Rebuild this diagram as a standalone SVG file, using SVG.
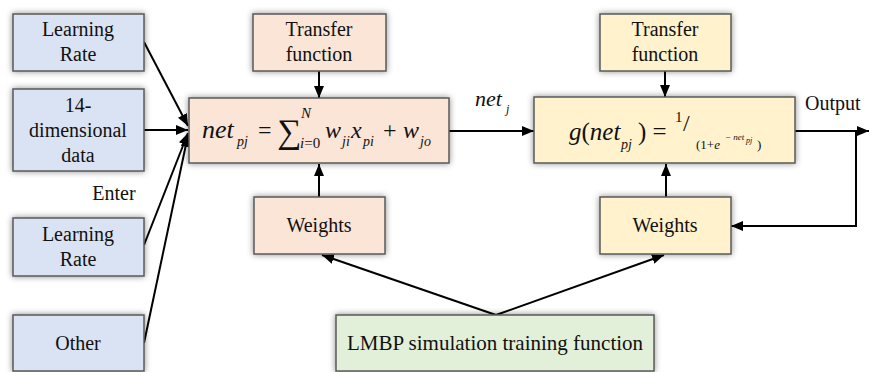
<svg xmlns="http://www.w3.org/2000/svg" width="869" height="372" viewBox="0 0 869 372">
<defs>
<filter id="sh" x="-20%" y="-30%" width="140%" height="160%">
<feDropShadow dx="0" dy="0" stdDeviation="3" flood-color="#000" flood-opacity="0.45"/>
</filter>
<marker id="ah" viewBox="0 0 12 10" refX="12" refY="5" markerWidth="12" markerHeight="10" markerUnits="userSpaceOnUse" orient="auto">
<path d="M0,0 L12,5 L0,10 Z" fill="#000"/>
</marker>
</defs>

<g id="connectors" stroke="#000" stroke-width="2" fill="none" marker-end="url(#ah)">
<line x1="144" y1="42" x2="188" y2="126"/>
<line x1="144" y1="130" x2="188" y2="130"/>
<line x1="144" y1="245" x2="188" y2="133"/>
<line x1="144" y1="343" x2="188" y2="135"/>
<line x1="319" y1="71" x2="319" y2="98"/>
<line x1="665" y1="71" x2="665" y2="97"/>
<line x1="319" y1="197" x2="319" y2="164"/>
<line x1="666" y1="197" x2="666" y2="164"/>
<line x1="449" y1="131" x2="534" y2="131"/>
<line x1="795" y1="131" x2="869" y2="131"/>
<polyline points="856,131 856,226 731,226"/>
<line x1="496" y1="315" x2="322" y2="255"/>
<line x1="496" y1="315" x2="664" y2="255"/>
</g>

<g id="boxes" stroke="#5a5a5a" stroke-width="1.5" filter="url(#sh)">
<rect id="learning-rate-1-box" x="13" y="14" width="131" height="57" fill="#dae3f3"/>
<rect id="data-14-box" x="13" y="89" width="131" height="82" fill="#dae3f3"/>
<rect id="learning-rate-2-box" x="13" y="218" width="131" height="58" fill="#dae3f3"/>
<rect id="other-box" x="13" y="315" width="131" height="56" fill="#dae3f3"/>
<rect id="transfer-1-box" x="253" y="14" width="133" height="57" fill="#fbe5d6"/>
<rect id="transfer-2-box" x="600" y="14" width="131" height="57" fill="#fff2cc"/>
<rect id="sum-box-rect" x="189" y="98" width="260" height="65" fill="#fbe5d6"/>
<rect id="g-box-rect" x="534" y="97" width="261" height="66" fill="#fff2cc"/>
<rect id="weights-1-box" x="254" y="197" width="131" height="57" fill="#fbe5d6"/>
<rect id="weights-2-box" x="600" y="197" width="131" height="57" fill="#fff2cc"/>
<rect id="lmbp-box" x="336" y="315" width="318" height="56" fill="#e2f0d9"/>
</g>

<g font-family="Liberation Serif" font-size="20" fill="#111">
<g id="learning-rate-1" text-anchor="middle"><text x="78" y="36" font-family="Liberation Serif">Learning</text><text x="78" y="61" font-family="Liberation Serif">Rate</text></g>
<g id="data-14" text-anchor="middle"><text x="78" y="112" font-family="Liberation Serif">14-</text><text x="78" y="137" font-family="Liberation Serif">dimensional</text><text x="78" y="162" font-family="Liberation Serif">data</text></g>
<g id="enter" text-anchor="middle"><text x="114" y="200" font-family="Liberation Serif">Enter</text></g>
<g id="learning-rate-2" text-anchor="middle"><text x="78" y="241" font-family="Liberation Serif">Learning</text><text x="78" y="266" font-family="Liberation Serif">Rate</text></g>
<g id="other" text-anchor="middle"><text x="78" y="350" font-family="Liberation Serif">Other</text></g>

<g id="transfer-1" text-anchor="middle"><text x="319" y="36" font-family="Liberation Serif">Transfer</text><text x="319" y="61" font-family="Liberation Serif">function</text></g>
<g id="transfer-2" text-anchor="middle"><text x="665" y="36" font-family="Liberation Serif">Transfer</text><text x="665" y="61" font-family="Liberation Serif">function</text></g>

<g id="sum-box" font-family="Liberation Serif">
<text x="202" y="138" font-style="italic" font-size="26">net</text>
<text x="237" y="146" font-style="italic" font-size="14">pj</text>
<text x="258" y="138" font-size="24">=</text>
<text x="277" y="143" font-size="34">∑</text>
<text x="301" y="118" font-style="italic" font-size="15">N</text>
<text x="300" y="148" font-size="15"><tspan font-style="italic">i</tspan>=0</text>
<text x="325" y="138" font-style="italic" font-size="24">w</text>
<text x="342" y="146" font-style="italic" font-size="14">ji</text>
<text x="351" y="138" font-style="italic" font-size="24">x</text>
<text x="363" y="146" font-style="italic" font-size="14">pi</text>
<text x="383" y="138" font-size="24">+</text>
<text x="403" y="138" font-style="italic" font-size="24">w</text>
<text x="420" y="146" font-style="italic" font-size="14">jo</text>
</g>

<g id="net-label" font-family="Liberation Serif"><text x="475" y="106" font-style="italic" font-size="22">net</text><text x="506" y="113" font-style="italic" font-size="12">j</text></g>

<g id="g-box" font-family="Liberation Serif">
<text x="569" y="140" font-style="italic" font-size="25">g<tspan font-style="normal">(</tspan>net</text>
<text x="621" y="149" font-style="italic" font-size="14">pj</text>
<text x="638" y="140" font-size="25">) =</text>
<text x="675" y="122" font-size="15">1</text>
<text x="683" y="131" font-size="24">/</text>
<text x="696" y="149" font-size="13">(1+<tspan font-style="italic">e</tspan></text>
<text x="725" y="140" font-style="italic" font-size="9">− net</text>
<text x="746" y="143" font-style="italic" font-size="8">pj</text>
<text x="757" y="149" font-size="13">)</text>
</g>

<g id="output"><text x="805" y="110" font-family="Liberation Serif">Output</text></g>

<g id="weights-1" text-anchor="middle"><text x="319" y="232" font-family="Liberation Serif">Weights</text></g>
<g id="weights-2" text-anchor="middle"><text x="665" y="232" font-family="Liberation Serif">Weights</text></g>

<g id="lmbp" text-anchor="middle"><text x="495" y="350" font-size="21" font-family="Liberation Serif">LMBP simulation training function</text></g>
</g>
</svg>
